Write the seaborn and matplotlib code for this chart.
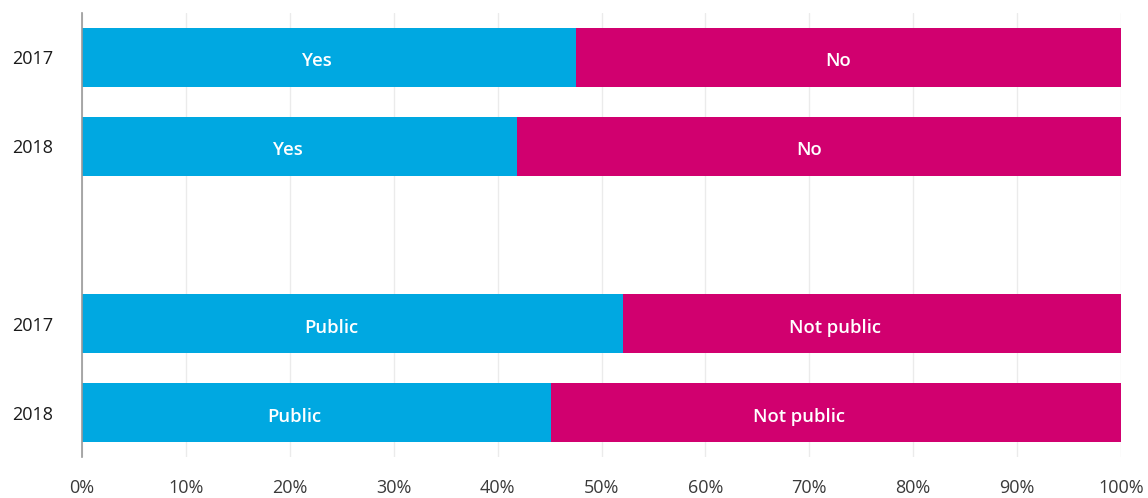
import matplotlib
matplotlib.use("Agg")
import matplotlib.pyplot as plt
import seaborn as sns
import pandas as pd

# Data
row_keys = ["a", "b", "gap", "c", "d"]
year_labels = ["2017", "2018", "", "2017", "2018"]
first_share = [47.5, 41.9, None, 52.1, 45.1]
first_labels = ["Yes", "Yes", "", "Public", "Public"]
second_labels = ["No", "No", "", "Not public", "Not public"]
ticks = [0, 10, 20, 30, 40, 50, 60, 70, 80, 90, 100]

blue = "#00a8e1"
magenta = "#d1006f"

sns.set_theme(style="white")
plt.rcParams["font.family"] = ["Open Sans", "DejaVu Sans"]

df = pd.DataFrame({"key": row_keys, "first": first_share,
                   "total": [100 if v is not None else None for v in first_share]})

fig = plt.figure(figsize=(11.48, 4.98), dpi=100)
ax = fig.add_axes([82/1148, 1 - 457/498, (1121 - 82)/1148, (457 - 13)/498])

sns.barplot(data=df, x="total", y="key", order=row_keys, orient="h",
            color=magenta, saturation=1, width=0.66, ax=ax, linewidth=0)
sns.barplot(data=df, x="first", y="key", order=row_keys, orient="h",
            color=blue, saturation=1, width=0.66, ax=ax, linewidth=0)

ax.set_xlim(0, 100)
ax.set_ylim(4.5, -0.5)

renderer = fig.canvas.get_renderer()
for i, (v, l1, l2) in enumerate(zip(first_share, first_labels, second_labels)):
    if v is None:
        continue
    for xc, lab in ((v / 2, l1), (v + (100 - v) / 2, l2)):
        t = ax.text(xc, i, lab, ha="center", va="center_baseline", color="white",
                    fontsize=13.3, fontweight="semibold")
        w = t.get_window_extent(renderer).width
        t.remove()
        ax.annotate(lab, (xc, i), xytext=(-0.4 * w * 72 / 100, -1.5),
                    textcoords="offset points", ha="center", va="center_baseline",
                    color="white", fontsize=13.3, fontweight="semibold")

ax.set_xticks(ticks)
ax.set_xticklabels([f"{t}%" for t in ticks], fontsize=13, color="#3a3a3a")
ax.set_yticks(range(len(row_keys)))
ax.set_yticklabels(year_labels, fontsize=13, color="#1a1a1a")
ax.tick_params(axis="y", length=0, pad=21)
ax.tick_params(axis="x", length=0, pad=16)
ax.set_xlabel("")
ax.set_ylabel("")

ax.grid(axis="x", color="#ebebeb", linewidth=1)
ax.grid(axis="y", visible=False)
ax.set_axisbelow(True)
for s in ["top", "right", "bottom"]:
    ax.spines[s].set_visible(False)
ax.spines["left"].set_color("#999999")
ax.spines["left"].set_linewidth(1.2)
ax.spines["left"].set_zorder(5)

fig.savefig("out.png", dpi=100)
